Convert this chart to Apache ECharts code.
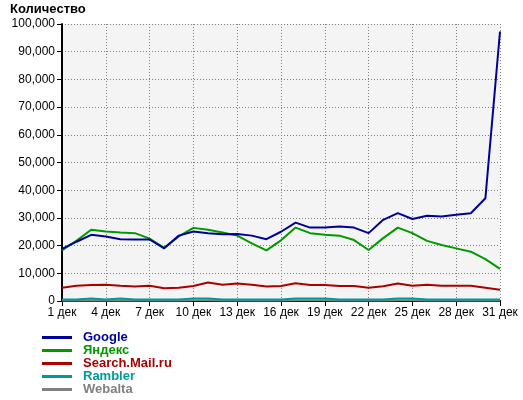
<!DOCTYPE html>
<html><head><meta charset="utf-8">
<script src="https://cdn.jsdelivr.net/npm/echarts@6/dist/echarts.min.js"></script>
<style>html,body{margin:0;padding:0;background:#fff}#c{width:523px;height:400px}</style>
</head><body><div id="c"></div>
<script>
const categories = ["1 дек","2 дек","3 дек","4 дек","5 дек","6 дек","7 дек","8 дек","9 дек","10 дек","11 дек","12 дек","13 дек","14 дек","15 дек","16 дек","17 дек","18 дек","19 дек","20 дек","21 дек","22 дек","23 дек","24 дек","25 дек","26 дек","27 дек","28 дек","29 дек","30 дек","31 дек"];
const google  = [18800,21400,23900,23300,22300,22200,22200,19000,23600,25100,24500,24100,24200,23600,22300,25000,28300,26500,26500,26900,26500,24500,29300,31700,29600,30800,30500,31100,31700,37100,97300];
const yandex  = [18300,21800,25700,25100,24700,24500,22500,19200,23300,26400,25700,24700,23600,20800,18300,21900,26500,24500,23900,23600,22000,18400,22700,26500,24500,21700,20200,19000,17800,15100,11600];
const mail    = [4800,5500,5800,5900,5500,5200,5500,4600,4800,5400,6700,5900,6300,5900,5200,5400,6400,5800,5800,5400,5400,4800,5300,6300,5500,5900,5500,5500,5500,4800,4100];
const rambler = [500,500,900,500,900,500,500,500,500,900,900,500,500,500,500,500,900,900,900,500,500,500,500,900,900,500,500,500,500,500,500];
const webalta = [150,150,250,150,250,150,150,150,150,250,250,150,150,150,150,150,250,250,250,150,150,150,150,250,250,150,150,150,150,150,150];
const seriesNames = ["Google","Яндекс","Search.Mail.ru","Rambler","Webalta"];
const seriesColors = ["#000099","#009900","#aa0000","#009999","#808080"];
const seriesData = [google, yandex, mail, rambler, webalta];
const yTicks = [0,10000,20000,30000,40000,50000,60000,70000,80000,90000,100000];

const chart = echarts.init(document.getElementById('c'), null, {renderer:'canvas'});
const FONT = '"Liberation Sans", Arial, sans-serif';
const series = seriesNames.map((n,i)=>({
  name:n, type:'line', data:seriesData[i], showSymbol:false, symbol:'none',
  lineStyle:{color:seriesColors[i], width:2}, itemStyle:{color:seriesColors[i]},
  z: 10 - i, animation:false
}));
chart.setOption({
  animation:false,
  title:{text:'Количество', left:10, top:2, padding:0, textStyle:{fontFamily:FONT, fontSize:13, fontWeight:'bold', color:'#000', lineHeight:14}},
  grid:{left:62, right:23, top:24, bottom:99, show:true, backgroundColor:'#f4f4f4', borderWidth:0},
  legend:{
    orient:'vertical', left:42, top:331, height:70, padding:0, itemWidth:30, itemHeight:3, itemGap:0, icon:'rect',
    data: seriesNames.map((n,i)=>({name:n, textStyle:{color:seriesColors[i]}})),
    textStyle:{fontFamily:FONT, fontSize:13, fontWeight:'bold', lineHeight:12.7, padding:[0,0,0,6]},
    selectedMode:false
  },
  xAxis:{
    type:'category', data:categories, boundaryGap:false,
    axisLine:{lineStyle:{color:'#000', width:2}},
    axisTick:{interval:2, length:5, lineStyle:{color:'#000'}},
    axisLabel:{interval:2, color:'#000', fontFamily:FONT, fontSize:12, margin:6},
    splitLine:{show:true, interval:2, lineStyle:{color:'#808080', type:[1,2], width:1}}
  },
  yAxis:{
    type:'value', min:yTicks[0], max:yTicks[yTicks.length-1], interval:10000,
    axisLine:{show:true, lineStyle:{color:'#000', width:2}},
    axisTick:{show:true, length:5, lineStyle:{color:'#000'}},
    axisLabel:{color:'#000', fontFamily:FONT, fontSize:12, margin:7, formatter:v=>v.toLocaleString('en-US')},
    splitLine:{show:true, lineStyle:{color:'#808080', type:[1,2], width:1}}
  },
  series: series
});
</script></body></html>
